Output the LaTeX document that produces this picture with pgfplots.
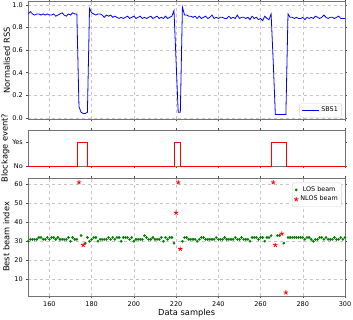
\documentclass[border=0pt]{standalone}
\usepackage{fontspec}
\setmainfont{DejaVu Sans}
\usepackage{pgfplots}
\usepackage{pgfplotstable}
\pgfplotsset{compat=1.18}
\definecolor{mplgreen}{RGB}{0,128,0}

\pgfplotstableread{
x y
150 0.92
151 0.94
152 0.92
153 0.91
154 0.92
155 0.92
156 0.91
157 0.92
158 0.91
159 0.92
160 0.91
161 0.91
162 0.92
163 0.90
164 0.91
165 0.92
166 0.93
167 0.91
168 0.90
169 0.92
170 0.91
171 0.93
172 0.92
173 0.92
174 0.10
175 0.05
176 0.04
177 0.04
178 0.05
179 0.97
180 0.93
181 0.92
182 0.91
183 0.92
184 0.92
185 0.91
186 0.89
187 0.91
188 0.90
189 0.91
190 0.89
191 0.90
192 0.89
193 0.88
194 0.89
195 0.88
196 0.89
197 0.90
198 0.88
199 0.89
200 0.90
201 0.88
202 0.89
203 0.90
204 0.88
205 0.89
206 0.88
207 0.89
208 0.90
209 0.88
210 0.89
211 0.90
212 0.88
213 0.89
214 0.88
215 0.90
216 0.88
217 0.89
218 0.90
219 0.95
220 0.50
221 0.05
222 0.05
223 0.98
224 0.91
225 0.91
226 0.90
227 0.90
228 0.89
229 0.90
230 0.88
231 0.90
232 0.88
233 0.89
234 0.90
235 0.88
236 0.89
237 0.91
238 0.88
239 0.89
240 0.88
241 0.89
242 0.89
243 0.88
244 0.88
245 0.90
246 0.88
247 0.89
248 0.88
249 0.91
250 0.88
251 0.89
252 0.89
253 0.88
254 0.89
255 0.87
256 0.90
257 0.88
258 0.89
259 0.87
260 0.88
261 0.86
262 0.90
263 0.88
264 0.87
265 0.92
266 0.50
267 0.03
268 0.03
269 0.03
270 0.03
271 0.03
272 0.03
273 0.92
274 0.89
275 0.89
276 0.88
277 0.89
278 0.88
279 0.88
280 0.89
281 0.87
282 0.89
283 0.88
284 0.89
285 0.88
286 0.90
287 0.89
288 0.88
289 0.89
290 0.91
291 0.89
292 0.88
293 0.89
294 0.89
295 0.88
296 0.89
297 0.90
298 0.88
299 0.88
300 0.88
}\rss

\pgfplotstableread{
x y
150 0
173 0
173 1
178 1
178 0
219 0
219 1
222 1
222 0
265 0
265 1
272 1
272 0
300 0
}\block

\pgfplotstableread{
x y
150 30
151 31
152 31
153 31
154 31
155 32
156 32
157 31
158 31
159 32
160 31
161 32
162 32
163 31
164 32
165 31
166 31
167 31
168 31
169 32
170 30
171 32
172 31
173 31
175 33
177 29
178 32
179 30
180 31
181 32
182 32
183 30
184 31
185 31
186 31
187 31
188 32
189 31
190 32
191 31
192 32
193 32
194 30
195 32
196 32
197 32
198 31
199 32
200 30
201 31
202 31
203 31
204 31
205 33
206 32
207 31
208 31
209 32
210 31
211 31
212 31
213 32
214 30
215 32
216 31
217 32
218 32
219 29
223 30
224 32
225 32
226 31
227 31
228 31
229 31
230 30
231 31
232 32
233 32
234 31
235 31
236 31
237 31
238 31
239 32
240 31
241 31
242 31
243 32
244 31
245 31
246 31
247 31
248 32
249 31
250 31
251 32
252 31
253 31
254 31
255 30
256 32
257 32
258 32
259 31
260 32
261 32
262 30
263 32
264 32
265 33
268 33
269 33
271 29
273 32
274 32
275 32
276 32
277 32
278 32
279 32
280 32
281 31
282 32
283 32
284 31
285 30
286 31
287 31
288 32
289 32
290 31
291 32
292 31
293 31
294 31
295 32
296 31
297 31
298 32
299 31
300 32
}\los

\pgfplotstableread{
x y
174 61
176 28
220 45
221 61
222 26
266 61
267 28
270 34
272 3
}\nlos

\pgfplotsset{
  base/.style={
    scale only axis, width=316.7pt,
    xmin=150, xmax=300,
    xtick={160,180,...,300},
    tick align=outside, major tick length=2pt,
    tick style={black!70, line width=0.5pt},
    axis line style={black!55, line width=0.6pt},
    tick label style={font=\fontsize{6.5}{7}\selectfont},
    label style={font=\fontsize{8.3}{9}\selectfont},
    /pgf/number format/assume math mode=true,
    grid style={dashed, gray!45, line width=0.4pt},
    legend style={font=\fontsize{6.4}{7.2}\selectfont, draw=gray!35, rounded corners=1.5pt, fill=white, inner sep=1.8pt, row sep=-1pt},
  }
}

\begin{document}
\begin{tikzpicture}
\useasboundingbox (-28.3pt,1.5pt) rectangle (324.7pt,-317.5pt);

\begin{axis}[base,
  at={(0,0)}, anchor=north west, height=117.8pt,
  ymin=-0.012, ymax=1.03,
  ytick={0,0.2,...,1.0},
  yticklabel style={/pgf/number format/.cd, fixed, fixed zerofill, precision=1},
  xticklabels={},
  grid=major,
  ylabel={Normalised RSS},
  ylabel style={at={(axis description cs:-0.0682,0.5)}, anchor=center, inner sep=0pt},
  legend style={at={(0.99,0.017)}, anchor=south east},
]
\addplot[blue, line width=0.8pt] table[x=x,y=y]{\rss};
\addlegendentry{SBS1}
\end{axis}

\begin{axis}[base,
  at={(0,-128.5pt)}, anchor=north west, height=36pt,
  ymin=0, ymax=1.5,
  ytick={0,1}, yticklabels={No,Yes},
  xticklabels={},
  clip=false,
  ylabel={Blockage event?},
  ylabel style={at={(axis description cs:-0.0726,0.5)}, anchor=center, inner sep=0pt},
]
\addplot[red, line width=0.6pt] table[x=x,y=y]{\block};
\end{axis}

\begin{axis}[base,
  at={(0,-176.5pt)}, anchor=north west, height=118pt,
  ymin=1.2, ymax=63.3,
  ytick={10,20,...,60},
  grid=major,
  xlabel={Data samples},
  xlabel style={at={(axis description cs:0.5,0)}, anchor=base, yshift=-19pt},
  ylabel={Best beam index},
  ylabel style={at={(axis description cs:-0.0695,0.5)}, anchor=center, inner sep=0pt},
  legend style={at={(0.99,0.96)}, anchor=north east},
]
\addplot[only marks, mark=*, mark size=1.15pt, color=mplgreen] table[x=x,y=y]{\los};
\addlegendentry{LOS beam}
\addplot[only marks, mark=star, mark size=2.3pt, color=red, mark options={line width=0.8pt}] table[x=x,y=y]{\nlos};
\addlegendentry{NLOS beam}
\end{axis}
\end{tikzpicture}
\end{document}
